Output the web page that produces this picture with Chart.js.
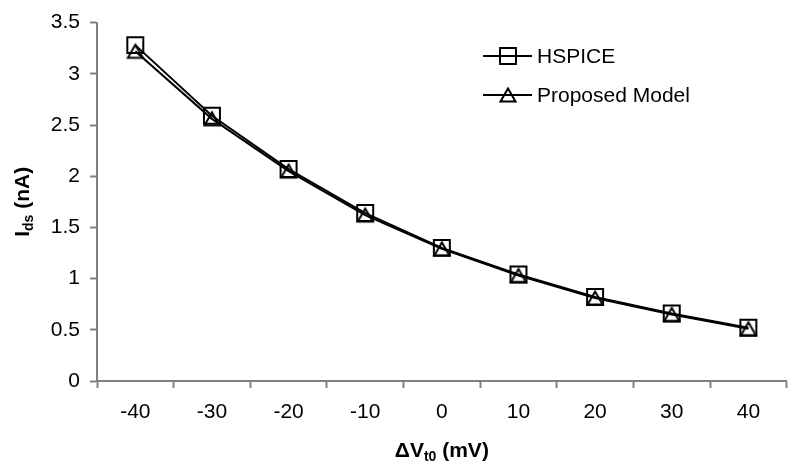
<!DOCTYPE html>
<html><head><meta charset="utf-8">
<script src="https://cdn.jsdelivr.net/npm/chart.js@4/dist/chart.umd.min.js"></script>
<style>html,body{margin:0;padding:0;background:#fff;overflow:hidden;width:795px;height:471px}</style>
</head><body>
<canvas id="c" width="800" height="471" style="display:block;width:800px;height:471px"></canvas>
<script>
const categories = ['-40', '-30', '-20', '-10', '0', '10', '20', '30', '40'];
const hspice = [3.28, 2.59, 2.07, 1.64, 1.30, 1.04, 0.82, 0.66, 0.52];
const proposed = [3.22, 2.56, 2.05, 1.62, 1.29, 1.03, 0.81, 0.65, 0.51];
const seriesNames = ['HSPICE', 'Proposed Model'];
const yMin = 0, yMax = 3.5, yStep = 0.5;

const FONT = '"Liberation Sans", Arial, Helvetica, sans-serif';
const AXIS = '#808080';
const SQ_R = 11.3;
const TRI_W = 15, TRI_H = 13;

// Triangle marker image, centred on its bounding box (as in the reference)
function triangleImage() {
  const c = document.createElement('canvas');
  c.width = 20; c.height = 18;
  const g = c.getContext('2d');
  g.strokeStyle = '#000'; g.lineWidth = 2; g.lineJoin = 'miter';
  const cx = c.width / 2, cy = c.height / 2;
  g.beginPath();
  g.moveTo(cx, cy - TRI_H / 2);
  g.lineTo(cx + TRI_W / 2, cy + TRI_H / 2);
  g.lineTo(cx - TRI_W / 2, cy + TRI_H / 2);
  g.closePath();
  g.stroke();
  return c;
}
const triImg = triangleImage();

function drawRich(ctx, parts, cx, cy, angle) {
  ctx.save();
  ctx.translate(cx, cy);
  ctx.rotate(angle);
  let total = 0;
  parts.forEach(p => { ctx.font = p.font; p.w = ctx.measureText(p.text).width; total += p.w; });
  let x = -total / 2;
  ctx.textBaseline = 'alphabetic';
  ctx.textAlign = 'left';
  parts.forEach(p => { ctx.font = p.font; ctx.fillText(p.text, x, 7 + (p.dy || 0)); x += p.w; });
  ctx.restore();
}

function marker(ctx, style, x, y) {
  if (style === 'rect') {
    const s = Math.SQRT1_2 * SQ_R;
    ctx.beginPath();
    ctx.rect(x - s, y - s, 2 * s, 2 * s);
    ctx.stroke();
  } else {
    ctx.drawImage(triImg, x - triImg.width / 2, y - triImg.height / 2);
  }
}

const decor = {
  id: 'decor',
  afterDraw(chart) {
    const ctx = chart.ctx;
    ctx.save();
    ctx.fillStyle = '#000';
    const main = 'bold 21px ' + FONT, sub = 'bold 14px ' + FONT;
    const ca = chart.chartArea;
    drawRich(ctx, [
      {text: 'ΔV', font: main}, {text: 't0', font: sub, dy: 4}, {text: ' (mV)', font: main}
    ], (ca.left + ca.right) / 2, 450, 0);
    drawRich(ctx, [
      {text: 'I', font: main}, {text: 'ds', font: sub, dy: 4}, {text: ' (nA)', font: main}
    ], 22, (ca.top + ca.bottom) / 2, -Math.PI / 2);
    // legend
    const rows = [{y: 56, style: 'rect'}, {y: 95, style: 'triangle'}];
    ctx.strokeStyle = '#000';
    ctx.lineWidth = 2;
    rows.forEach((r, i) => {
      ctx.beginPath(); ctx.moveTo(483, r.y); ctx.lineTo(532, r.y); ctx.stroke();
      marker(ctx, r.style, 508, r.y);
      ctx.font = '21px ' + FONT;
      ctx.textBaseline = 'middle';
      ctx.textAlign = 'left';
      ctx.fillText(seriesNames[i], 537, r.y + 1);
    });
    ctx.restore();
  }
};

new Chart(document.getElementById('c'), {
  type: 'line',
  data: {
    labels: categories,
    datasets: [
      {label: seriesNames[0], data: hspice, borderColor: '#000', borderWidth: 2,
       pointStyle: 'rect', pointRadius: SQ_R, pointBorderWidth: 2, pointBorderColor: '#000',
       pointBackgroundColor: 'rgba(0,0,0,0)', tension: 0, fill: false},
      {label: seriesNames[1], data: proposed, borderColor: '#000', borderWidth: 2,
       pointStyle: triImg, pointRadius: 9, pointBorderWidth: 2, pointBorderColor: '#000',
       pointBackgroundColor: 'rgba(0,0,0,0)', tension: 0, fill: false}
    ]
  },
  options: {
    responsive: false,
    animation: false,
    devicePixelRatio: 1,
    layout: {padding: {top: 22, right: 1, left: 0, bottom: 0}},
    plugins: {legend: {display: false}, tooltip: {enabled: false}},
    scales: {
      x: {
        type: 'category',
        offset: true,
        afterFit: s => { s.height = 90; },
        grid: {display: true, drawOnChartArea: false, drawTicks: true, tickLength: 7, tickColor: AXIS, tickWidth: 2, offset: true},
        border: {display: true, color: AXIS, width: 2},
        ticks: {color: '#000', font: {family: FONT, size: 21}, padding: 12, maxRotation: 0, autoSkip: false}
      },
      y: {
        min: yMin, max: yMax,
        afterFit: s => { s.width = 97; },
        grid: {display: true, drawOnChartArea: false, drawTicks: true, tickLength: 7, tickColor: AXIS, tickWidth: 2},
        border: {display: true, color: AXIS, width: 2},
        ticks: {stepSize: yStep, color: '#000', font: {family: FONT, size: 21}, padding: 10,
                callback: v => String(v)}
      }
    }
  },
  plugins: [decor]
});
</script>
</body></html>
